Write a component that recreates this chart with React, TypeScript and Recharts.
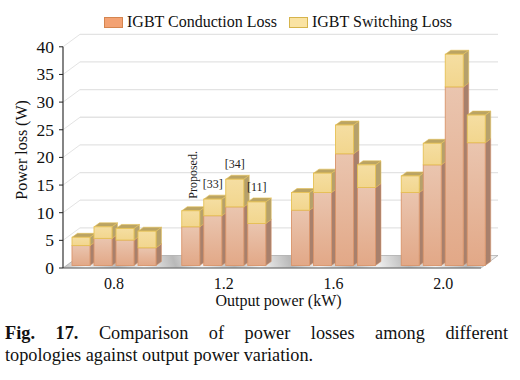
import { BarChart, Bar, XAxis, YAxis, CartesianGrid, Legend, LabelList, Label } from "recharts";

const categories = ["0.8", "1.2", "1.6", "2.0"];
const topologies = ["Proposed.", "[33]", "[34]", "[11]"];
const seriesNames = ["IGBT Conduction Loss", "IGBT Switching Loss"];
const yTicks = [0, 5, 10, 15, 20, 25, 30, 35, 40];

// losses in W at 0.8 / 1.2 / 1.6 / 2.0 kW
const proposedCond = [3.6, 7.0, 10.0, 13.2];
const proposedSw = [1.5, 2.9, 3.2, 3.0];
const ref33Cond = [4.9, 9.0, 13.2, 18.2];
const ref33Sw = [2.1, 3.0, 3.5, 3.9];
const ref34Cond = [4.6, 10.6, 20.2, 32.3];
const ref34Sw = [2.1, 5.0, 5.2, 5.9];
const ref11Cond = [3.2, 7.6, 14.1, 22.2];
const ref11Sw = [3.0, 3.9, 4.1, 5.0];

const condLists = [proposedCond, ref33Cond, ref34Cond, ref11Cond];
const swLists = [proposedSw, ref33Sw, ref34Sw, ref11Sw];

const data = categories.map((power, i) => {
  const row: Record<string, string | number> = { power };
  topologies.forEach((_, t) => {
    row[`c${t}`] = condLists[t][i];
    row[`s${t}`] = swLists[t][i];
  });
  return row;
});

const SERIF = '"Liberation Serif", "Times New Roman", serif';
const W = 520;
const H = 310;
const MARGIN = { top: 44.3, right: 22, bottom: 4.5, left: 0 };
const X_H = 40;
const PLOT_BOTTOM = H - MARGIN.bottom - X_H;

// fake 3d: front plane / back wall relative to the bar plane, and bar depth
const FRONT = { dx: 4, dy: 2.5 };
const BACK = { dx: 21, dy: -10 };
const DEPTH = { dx: 5.5, dy: 4 };

const STYLE: Record<string, any> = {
  cond: { grad: "condFront", edge: "#D9946A", top: "#C99A80", side: "#A8806C", swatch: "#F3A273", swatchEdge: "#D5854F" },
  sw: { grad: "swFront", edge: "#E6C156", top: "#BBA463", side: "#B6A16B", swatch: "#FAE3A3", swatchEdge: "#D6B44C" },
};

const Box = (props: any) => {
  const { x, y, width: w, height: h, kind } = props;
  if (!h || h <= 0) return null;
  const s = STYLE[kind];
  const d = DEPTH;
  return (
    <g>
      <polygon
        points={`${x + w},${y} ${x + w + d.dx},${y - d.dy} ${x + w + d.dx},${y + h - d.dy} ${x + w},${y + h}`}
        fill={s.side}
        stroke={s.edge}
        strokeWidth={0.5}
      />
      <polygon
        points={`${x},${y} ${x + d.dx},${y - d.dy} ${x + w + d.dx},${y - d.dy} ${x + w},${y}`}
        fill={s.top}
        stroke={s.edge}
        strokeWidth={0.6}
      />
      <rect x={x} y={y} width={w} height={h} fill={`url(#${s.grad})`} stroke={s.edge} strokeWidth={0.9} />
    </g>
  );
};

const gridLine = (p: any) => {
  const { x1, x2, y1 } = p;
  const fx = x1 + FRONT.dx;
  const fy = y1 + FRONT.dy;
  const bx = x1 + BACK.dx;
  const by = y1 + BACK.dy;
  if (Math.abs(y1 - PLOT_BOTTOM) < 1) {
    const fr = x2 - (BACK.dx - FRONT.dx);
    return (
      <g key={p.key}>
        <polygon points={`${fx},${fy} ${fr},${fy} ${x2},${by} ${bx},${by}`} fill="url(#floor)" stroke="#9a9a9a" strokeWidth={0.6} />
        <line x1={fx} y1={fy} x2={fr} y2={fy} stroke="#6e6e6e" strokeWidth={1.2} />
      </g>
    );
  }
  return (
    <g key={p.key}>
      <line x1={fx} y1={fy} x2={bx} y2={by} stroke="#e3e3e3" strokeWidth={1} />
      <line x1={bx} y1={by} x2={x2} y2={by} stroke="#e3e3e3" strokeWidth={1.3} />
    </g>
  );
};

const YTick = (p: any) => {
  const { x, y, payload } = p;
  const ax = x + 7 + FRONT.dx;
  const fy = y + FRONT.dy;
  return (
    <g>
      <line x1={ax - 4} y1={fy} x2={ax} y2={fy} stroke="#222" strokeWidth={1} />
      <text x={ax - 9} y={fy} textAnchor="end" dominantBaseline="central" fontSize={17.5} fill="#111" fontFamily={SERIF}>
        {payload.value}
      </text>
    </g>
  );
};

const topLabel = (t: number) => (p: any) => {
  const { x, y, width, index } = p;
  if (index !== 1) return null;
  const cx = x + width / 2;
  if (t === 0) {
    return (
      <text
        x={cx + 2}
        y={y - 12}
        transform={`rotate(-90 ${cx + 2} ${y - 12})`}
        textAnchor="start"
        dominantBaseline="central"
        fontSize={12}
        fill="#222"
        fontFamily={SERIF}
      >
        {topologies[t]}
      </text>
    );
  }
  return (
    <text x={cx} y={y - 15} textAnchor="middle" dominantBaseline="central" fontSize={12} fill="#222" fontFamily={SERIF}>
      {topologies[t]}
    </text>
  );
};

const LegendBox = () => (
  <div style={{ display: "flex", alignItems: "center", fontFamily: SERIF, fontSize: 16, color: "#111" }}>
    {seriesNames.map((name, i) => {
      const s = STYLE[i === 0 ? "cond" : "sw"];
      return (
        <div key={name} style={{ display: "flex", alignItems: "center", marginRight: 12 }}>
          <span
            style={{
              display: "inline-block",
              width: 17,
              height: 9,
              background: s.swatch,
              border: `1px solid ${s.swatchEdge}`,
              marginRight: 4,
            }}
          />
          <span>{name}</span>
        </div>
      );
    })}
  </div>
);

export default function App() {
  return (
    <div style={{ position: "absolute", left: 0, top: 0, width: 520, height: 380, background: "#fff", fontFamily: SERIF }}>
      <svg width={0} height={0} style={{ position: "absolute" }}>
        <defs>
          <linearGradient id="condFront" x1="0" y1="0" x2="0" y2="1">
            <stop offset="0%" stopColor="#EAC5AF" />
            <stop offset="100%" stopColor="#E2A887" />
          </linearGradient>
          <linearGradient id="swFront" x1="0" y1="0" x2="0" y2="1">
            <stop offset="0%" stopColor="#F5DEA2" />
            <stop offset="100%" stopColor="#F2D68E" />
          </linearGradient>
          <linearGradient id="floor" gradientUnits="userSpaceOnUse" x1="60" y1="268" x2="112" y2="250" spreadMethod="repeat">
            <stop offset="0%" stopColor="#b9b9b9" />
            <stop offset="45%" stopColor="#f2f2f2" />
            <stop offset="100%" stopColor="#b9b9b9" />
          </linearGradient>
        </defs>
      </svg>
      <BarChart width={W} height={H} data={data} margin={MARGIN} barSize={18} barGap={4}>
        <CartesianGrid vertical={false} horizontal={gridLine} />
        <XAxis
          dataKey="power"
          interval={0}
          axisLine={false}
          tickLine={false}
          tickSize={0}
          tickMargin={12}
          height={X_H}
          tick={{ fontSize: 16, fill: "#111", fontFamily: SERIF }}
        >
          <Label value="Output power (kW)" position="insideBottom" offset={0} style={{ fontSize: 16, fill: "#111", fontFamily: SERIF }} />
        </XAxis>
        <YAxis
          width={59}
          domain={[0, 40]}
          ticks={yTicks}
          tickSize={4}
          tickMargin={3}
          tickLine={false}
          axisLine={{ stroke: "#333", strokeWidth: 1.2, transform: `translate(${FRONT.dx},${FRONT.dy})` }}
          tick={<YTick />}
        >
          <Label
            value="Power loss (W)"
            angle={-90}
            position="center"
            dx={-8}
            dy={-5}
            style={{ fontSize: 16, fill: "#111", fontFamily: SERIF }}
          />
        </YAxis>
        <Legend
          verticalAlign="middle"
          align="center"
          layout="horizontal"
          wrapperStyle={{ top: 13, left: 104, width: 400, height: 20 }}
          content={<LegendBox />}
        />
        {topologies.flatMap((name, t) => [
          <Bar
            key={`c${t}`}
            dataKey={`c${t}`}
            stackId={`t${t}`}
            name={seriesNames[0]}
            isAnimationActive={false}
            shape={(p: any) => <Box {...p} kind="cond" />}
          />,
          <Bar
            key={`s${t}`}
            dataKey={`s${t}`}
            stackId={`t${t}`}
            name={seriesNames[1]}
            isAnimationActive={false}
            shape={(p: any) => <Box {...p} kind="sw" />}
          >
            <LabelList dataKey={`s${t}`} content={topLabel(t)} />
          </Bar>,
        ])}
      </BarChart>
      <div
        style={{
          position: "absolute",
          left: 5,
          top: 322,
          width: 503,
          fontSize: 18.3,
          lineHeight: "22px",
          color: "#111",
        }}
      >
        <div style={{ textAlign: "justify", textAlignLast: "justify", whiteSpace: "nowrap" }}>
          <b>Fig. 17.</b> Comparison of power losses among different
        </div>
        <div>topologies against output power variation.</div>
      </div>
    </div>
  );
}
